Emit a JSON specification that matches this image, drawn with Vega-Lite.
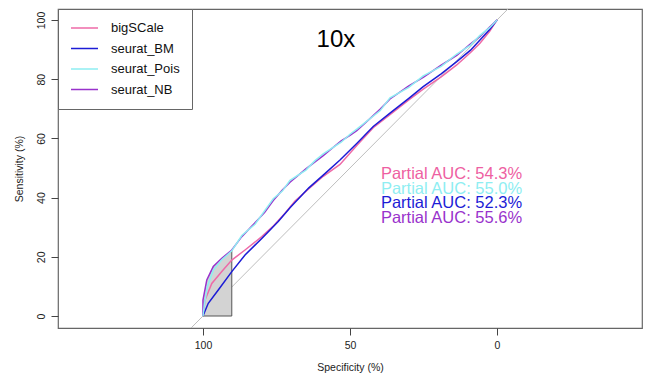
{
  "$schema": "https://vega.github.io/schema/vega-lite/v6.json",
  "width": 584,
  "height": 319,
  "autosize": "none",
  "padding": {"left": 58, "top": 9, "right": 10, "bottom": 51},
  "background": "white",
  "config": {
    "font": "Liberation Sans",
    "view": {"stroke": "#666666", "strokeWidth": 1.2},
    "axis": {"grid": false, "domain": false, "tickColor": "#444444", "tickSize": 7, "labelFontSize": 10.5, "labelColor": "#222222", "titleFontSize": 10.5, "titleFontWeight": "normal", "titleColor": "#222222", "labelFont": "Liberation Sans", "titleFont": "Liberation Sans"}
  },
  "datasets": {
    "diag": [{"spec": 104.05, "sens": -4.05}, {"spec": -3.7, "sens": 103.7}],
    "shade": [
      {"spec": 100, "sens": 0}, {"spec": 100, "sens": 5.4}, {"spec": 98.7, "sens": 12.2},
      {"spec": 96.5, "sens": 16.7}, {"spec": 93.6, "sens": 19.5}, {"spec": 90.2, "sens": 22.3}
    ],
    "border": [
      {"i": 1, "spec": 100, "sens": 0}, {"i": 2, "spec": 90.2, "sens": 0}, {"i": 3, "spec": 90.2, "sens": 22.3}
    ],
    "curves": [
      {"method": "bigSCale", "i": 1, "spec": 100, "sens": 0},
      {"method": "bigSCale", "i": 2, "spec": 99.3, "sens": 5.4},
      {"method": "bigSCale", "i": 3, "spec": 97, "sens": 11},
      {"method": "bigSCale", "i": 4, "spec": 93.6, "sens": 15},
      {"method": "bigSCale", "i": 5, "spec": 90.2, "sens": 18.9},
      {"method": "bigSCale", "i": 6, "spec": 85.7, "sens": 22.3},
      {"method": "bigSCale", "i": 7, "spec": 80, "sens": 26.8},
      {"method": "bigSCale", "i": 8, "spec": 76, "sens": 30.5},
      {"method": "bigSCale", "i": 9, "spec": 72.1, "sens": 34.7},
      {"method": "bigSCale", "i": 10, "spec": 68.7, "sens": 38.8},
      {"method": "bigSCale", "i": 11, "spec": 64, "sens": 43},
      {"method": "bigSCale", "i": 12, "spec": 59.1, "sens": 47.2},
      {"method": "bigSCale", "i": 13, "spec": 53.4, "sens": 51.2},
      {"method": "bigSCale", "i": 14, "spec": 47.7, "sens": 57.6},
      {"method": "bigSCale", "i": 15, "spec": 42.1, "sens": 63.6},
      {"method": "bigSCale", "i": 16, "spec": 36.4, "sens": 68},
      {"method": "bigSCale", "i": 17, "spec": 30, "sens": 73},
      {"method": "bigSCale", "i": 18, "spec": 25.1, "sens": 76.6},
      {"method": "bigSCale", "i": 19, "spec": 19, "sens": 80.8},
      {"method": "bigSCale", "i": 20, "spec": 13.7, "sens": 84.8},
      {"method": "bigSCale", "i": 21, "spec": 9, "sens": 89},
      {"method": "bigSCale", "i": 22, "spec": 5.8, "sens": 92.1},
      {"method": "bigSCale", "i": 23, "spec": 2.5, "sens": 96.2},
      {"method": "bigSCale", "i": 24, "spec": 0, "sens": 100},

      {"method": "seurat_BM", "i": 1, "spec": 100, "sens": 0},
      {"method": "seurat_BM", "i": 2, "spec": 98.2, "sens": 4.3},
      {"method": "seurat_BM", "i": 3, "spec": 94.8, "sens": 8.8},
      {"method": "seurat_BM", "i": 4, "spec": 90.2, "sens": 15},
      {"method": "seurat_BM", "i": 5, "spec": 85.7, "sens": 20.6},
      {"method": "seurat_BM", "i": 6, "spec": 80, "sens": 26.2},
      {"method": "seurat_BM", "i": 7, "spec": 74.4, "sens": 31.9},
      {"method": "seurat_BM", "i": 8, "spec": 70.4, "sens": 36.6},
      {"method": "seurat_BM", "i": 9, "spec": 64, "sens": 43.3},
      {"method": "seurat_BM", "i": 10, "spec": 59.1, "sens": 47.6},
      {"method": "seurat_BM", "i": 11, "spec": 53.4, "sens": 52.7},
      {"method": "seurat_BM", "i": 12, "spec": 47.7, "sens": 58.3},
      {"method": "seurat_BM", "i": 13, "spec": 42.1, "sens": 64},
      {"method": "seurat_BM", "i": 14, "spec": 36.4, "sens": 68.5},
      {"method": "seurat_BM", "i": 15, "spec": 30, "sens": 73.5},
      {"method": "seurat_BM", "i": 16, "spec": 25.1, "sens": 77.5},
      {"method": "seurat_BM", "i": 17, "spec": 19, "sens": 81.8},
      {"method": "seurat_BM", "i": 18, "spec": 13.7, "sens": 85.9},
      {"method": "seurat_BM", "i": 19, "spec": 9, "sens": 89.8},
      {"method": "seurat_BM", "i": 20, "spec": 5.8, "sens": 93.2},
      {"method": "seurat_BM", "i": 21, "spec": 2.5, "sens": 96.8},
      {"method": "seurat_BM", "i": 22, "spec": 0, "sens": 100},

      {"method": "seurat_NB", "i": 1, "spec": 100, "sens": 0},
      {"method": "seurat_NB", "i": 2, "spec": 100, "sens": 5.4},
      {"method": "seurat_NB", "i": 3, "spec": 98.7, "sens": 12.2},
      {"method": "seurat_NB", "i": 4, "spec": 96.5, "sens": 16.7},
      {"method": "seurat_NB", "i": 5, "spec": 93.6, "sens": 19.5},
      {"method": "seurat_NB", "i": 6, "spec": 90.2, "sens": 22.3},
      {"method": "seurat_NB", "i": 7, "spec": 86.8, "sens": 26.8},
      {"method": "seurat_NB", "i": 8, "spec": 82.3, "sens": 31.5},
      {"method": "seurat_NB", "i": 9, "spec": 79, "sens": 35.0},
      {"method": "seurat_NB", "i": 10, "spec": 76.1, "sens": 39.0},
      {"method": "seurat_NB", "i": 11, "spec": 73, "sens": 42.6},
      {"method": "seurat_NB", "i": 12, "spec": 70.4, "sens": 45.2},
      {"method": "seurat_NB", "i": 13, "spec": 65, "sens": 49.7},
      {"method": "seurat_NB", "i": 14, "spec": 62, "sens": 52.0},
      {"method": "seurat_NB", "i": 15, "spec": 59.1, "sens": 54.2},
      {"method": "seurat_NB", "i": 16, "spec": 53, "sens": 59.2},
      {"method": "seurat_NB", "i": 17, "spec": 50, "sens": 61.0},
      {"method": "seurat_NB", "i": 18, "spec": 47.7, "sens": 62.6},
      {"method": "seurat_NB", "i": 19, "spec": 39.8, "sens": 69.8},
      {"method": "seurat_NB", "i": 20, "spec": 36.4, "sens": 73.3},
      {"method": "seurat_NB", "i": 21, "spec": 30, "sens": 77.7},
      {"method": "seurat_NB", "i": 22, "spec": 25.1, "sens": 80.6},
      {"method": "seurat_NB", "i": 23, "spec": 19, "sens": 84.7},
      {"method": "seurat_NB", "i": 24, "spec": 13.7, "sens": 88.0},
      {"method": "seurat_NB", "i": 25, "spec": 9, "sens": 91.9},
      {"method": "seurat_NB", "i": 26, "spec": 5.8, "sens": 94.4},
      {"method": "seurat_NB", "i": 27, "spec": 2.5, "sens": 97.6},
      {"method": "seurat_NB", "i": 28, "spec": 0, "sens": 100},

      {"method": "seurat_Pois", "i": 1, "spec": 100, "sens": 0},
      {"method": "seurat_Pois", "i": 2, "spec": 99.5, "sens": 4},
      {"method": "seurat_Pois", "i": 3, "spec": 98.5, "sens": 10},
      {"method": "seurat_Pois", "i": 4, "spec": 96.5, "sens": 15.5},
      {"method": "seurat_Pois", "i": 5, "spec": 93.6, "sens": 19},
      {"method": "seurat_Pois", "i": 6, "spec": 90.2, "sens": 22},
      {"method": "seurat_Pois", "i": 7, "spec": 86.8, "sens": 27.2},
      {"method": "seurat_Pois", "i": 8, "spec": 82.3, "sens": 31.0},
      {"method": "seurat_Pois", "i": 9, "spec": 79, "sens": 35.6},
      {"method": "seurat_Pois", "i": 10, "spec": 76.1, "sens": 39.6},
      {"method": "seurat_Pois", "i": 11, "spec": 73, "sens": 42.2},
      {"method": "seurat_Pois", "i": 12, "spec": 70.4, "sens": 45.8},
      {"method": "seurat_Pois", "i": 13, "spec": 65, "sens": 49.3},
      {"method": "seurat_Pois", "i": 14, "spec": 62, "sens": 52.4},
      {"method": "seurat_Pois", "i": 15, "spec": 59.1, "sens": 54.8},
      {"method": "seurat_Pois", "i": 16, "spec": 53, "sens": 58.7},
      {"method": "seurat_Pois", "i": 17, "spec": 50, "sens": 61.4},
      {"method": "seurat_Pois", "i": 18, "spec": 47.7, "sens": 63.1},
      {"method": "seurat_Pois", "i": 19, "spec": 39.8, "sens": 69.3},
      {"method": "seurat_Pois", "i": 20, "spec": 36.4, "sens": 73.7},
      {"method": "seurat_Pois", "i": 21, "spec": 30, "sens": 77.2},
      {"method": "seurat_Pois", "i": 22, "spec": 25.1, "sens": 81.1},
      {"method": "seurat_Pois", "i": 23, "spec": 19, "sens": 84.3},
      {"method": "seurat_Pois", "i": 24, "spec": 13.7, "sens": 88.5},
      {"method": "seurat_Pois", "i": 25, "spec": 9, "sens": 91.5},
      {"method": "seurat_Pois", "i": 26, "spec": 5.8, "sens": 94.8},
      {"method": "seurat_Pois", "i": 27, "spec": 2.5, "sens": 97.4},
      {"method": "seurat_Pois", "i": 28, "spec": 0, "sens": 100}
    ],
    "auc": [
      {"method": "bigSCale", "label": "Partial AUC: 54.3%", "spec": 39.5, "sens": 47.8},
      {"method": "seurat_Pois", "label": "Partial AUC: 55.0%", "spec": 39.5, "sens": 42.9},
      {"method": "seurat_BM", "label": "Partial AUC: 52.3%", "spec": 39.5, "sens": 38.2},
      {"method": "seurat_NB", "label": "Partial AUC: 55.6%", "spec": 39.5, "sens": 33.1}
    ],
    "title": [{"label": "10x", "spec": 54.8, "sens": 93.2}]
  },
  "resolve": {"scale": {"color": "independent"}},
  "layer": [
    {
      "data": {"name": "diag"},
      "mark": {"type": "line", "color": "#BEBEBE", "strokeWidth": 1, "clip": true},
      "encoding": {
        "x": {"field": "spec", "type": "quantitative", "scale": {"domain": [-49.3, 149.3], "reverse": true, "nice": false, "zero": false},
              "axis": {"values": [0, 50, 100], "title": "Specificity (%)", "labelPadding": 5, "titlePadding": 12}},
        "y": {"field": "sens", "type": "quantitative", "scale": {"domain": [-4.05, 103.7], "nice": false, "zero": false},
              "axis": {"values": [0, 20, 40, 60, 80, 100], "title": "Sensitivity (%)", "labelAngle": -90, "labelAlign": "center", "labelBaseline": "bottom", "labelPadding": 5, "titlePadding": 12}}
      }
    },
    {
      "data": {"name": "shade"},
      "mark": {"type": "area", "color": "#D3D3D3", "opacity": 1},
      "encoding": {
        "x": {"field": "spec", "type": "quantitative"},
        "y": {"field": "sens", "type": "quantitative"},
        "y2": {"datum": 0}
      }
    },
    {
      "data": {"name": "border"},
      "mark": {"type": "line", "color": "#555555", "strokeWidth": 1},
      "encoding": {
        "x": {"field": "spec", "type": "quantitative"},
        "y": {"field": "sens", "type": "quantitative"},
        "order": {"field": "i", "type": "quantitative"}
      }
    },
    {
      "data": {"name": "curves"},
      "mark": {"type": "line", "strokeWidth": 1.5},
      "encoding": {
        "x": {"field": "spec", "type": "quantitative"},
        "y": {"field": "sens", "type": "quantitative"},
        "order": {"field": "i", "type": "quantitative"},
        "color": {"field": "method", "type": "nominal",
          "scale": {"domain": ["bigSCale", "seurat_BM", "seurat_Pois", "seurat_NB"], "range": ["#EE6AA7", "#1C1CD6", "#8EEEF2", "#9932CC"]},
          "legend": {"title": null, "orient": "none", "legendX": 0, "legendY": 0, "padding": 12, "strokeColor": "#666666", "fillColor": "white",
                     "symbolType": "stroke", "symbolSize": 729, "symbolStrokeWidth": 1.6, "clipHeight": 14, "labelFontSize": 13, "labelOffset": 12, "rowPadding": 6.5, "labelColor": "#111111", "labelFont": "Liberation Sans"}}
      }
    },
    {
      "data": {"name": "auc"},
      "mark": {"type": "text", "align": "left", "baseline": "middle", "fontSize": 16.5, "font": "Liberation Sans"},
      "encoding": {
        "x": {"field": "spec", "type": "quantitative"},
        "y": {"field": "sens", "type": "quantitative"},
        "text": {"field": "label", "type": "nominal"},
        "color": {"field": "method", "type": "nominal", "legend": null,
          "scale": {"domain": ["bigSCale", "seurat_BM", "seurat_Pois", "seurat_NB"], "range": ["#EE5FA2", "#1C1CD6", "#8EEEF2", "#9932CC"]}}
      }
    },
    {
      "data": {"name": "title"},
      "mark": {"type": "text", "align": "center", "baseline": "middle", "fontSize": 24, "font": "Liberation Sans", "color": "#000000"},
      "encoding": {
        "x": {"field": "spec", "type": "quantitative"},
        "y": {"field": "sens", "type": "quantitative"},
        "text": {"field": "label", "type": "nominal"}
      }
    }
  ]
}
